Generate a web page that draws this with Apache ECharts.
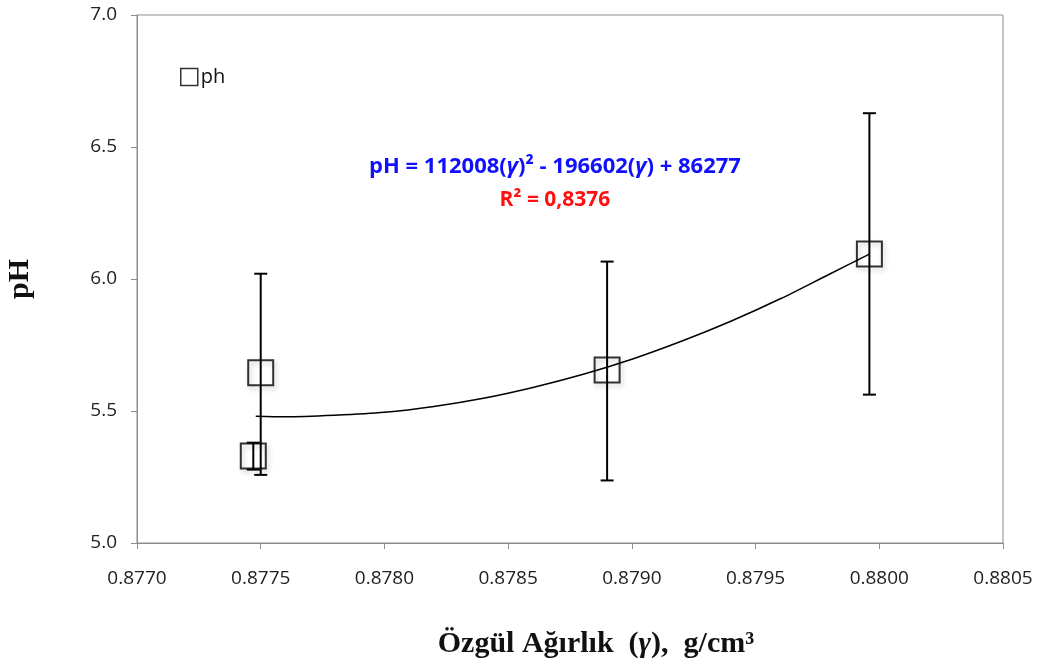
<!DOCTYPE html>
<html>
<head>
<meta charset="utf-8">
<script src="https://cdn.jsdelivr.net/npm/echarts@6/dist/echarts.min.js"></script>
<style>html,body{margin:0;padding:0;background:#fff}#c{width:1049px;height:670px}</style>
</head>
<body>
<div id="c"></div>
<script>
// Measured points (specific gravity, pH)
const gammaVals = [0.87747, 0.87750, 0.87890, 0.87996];
const phVals    = [5.330, 5.645, 5.655, 6.095];
const errLow    = [5.278, 5.258, 5.237, 5.562];
const errHigh   = [5.380, 6.020, 6.066, 6.628];
// Polynomial trendline
const trendX = [0.87748,0.87760,0.87780,0.87800,0.87820,0.87840,0.87860,0.87880,0.87900,0.87920,0.87940,0.87960,0.87980,0.87996];
const trendY = [5.480,5.478,5.484,5.495,5.517,5.548,5.589,5.638,5.696,5.764,5.840,5.925,6.019,6.094];
const xTicks = {min: 0.8770, max: 0.8805, interval: 0.0005};
const yTicks = {min: 5.0, max: 7.0, interval: 0.5};

const chart = echarts.init(document.getElementById('c'), null, {renderer: 'canvas'});
const pts = gammaVals.map((g, i) => [g, phVals[i]]);
const errs = gammaVals.map((g, i) => [g, errLow[i], errHigh[i]]);
const trend = trendX.map((g, i) => [g, trendY[i]]);
const sans = 'Open Sans, Liberation Sans, sans-serif';
const tickFont = {fontFamily: sans, fontSize: 19, color: '#222'};

chart.setOption({
  animation: false,
  grid: {left: 137, right: 46, top: 15, bottom: 127, containLabel: false, outerBoundsMode: 'none',
    show: true, borderColor: '#8c8c8c', borderWidth: 1},
  legend: {
    left: 175, top: 62, itemWidth: 17, itemHeight: 17, itemGap: 4,
    data: [{name: 'ph', icon: 'rect', itemStyle: {color: '#fff', borderColor: '#000', borderWidth: 1.5}}],
    textStyle: {fontFamily: sans, fontSize: 20, color: '#111', padding: [0,0,0,-2]}
  },
  xAxis: {
    type: 'value', min: xTicks.min, max: xTicks.max, interval: xTicks.interval,
    axisLine: {lineStyle: {color: '#8c8c8c'}},
    axisTick: {show: true, inside: false, length: 6, lineStyle: {color: '#8c8c8c'}},
    splitLine: {show: false},
    axisLabel: Object.assign({formatter: v => v.toFixed(4), margin: 26}, tickFont),
    name: '{b|Özgül Ağırlık  (}{i|γ}{b|),  g/cm³}', nameLocation: 'middle', nameGap: 86,
    nameTextStyle: {padding: [0, 0, 0, 52], rich: {
      b: {fontFamily: 'Liberation Serif, serif', fontWeight: 'bold', fontSize: 30, color: '#111'},
      i: {fontFamily: 'Liberation Serif, serif', fontWeight: 'bold', fontStyle: 'italic', fontSize: 30, color: '#111'}
    }}
  },
  yAxis: {
    type: 'value', min: yTicks.min, max: yTicks.max, interval: yTicks.interval,
    axisLine: {show: true, lineStyle: {color: '#8c8c8c'}},
    axisTick: {show: true, inside: false, length: 6, lineStyle: {color: '#8c8c8c'}},
    splitLine: {show: false},
    axisLabel: Object.assign({formatter: v => v.toFixed(1), margin: 20}, tickFont),
    name: 'pH', nameLocation: 'middle', nameGap: 102,
    nameTextStyle: {fontFamily: 'Liberation Serif, serif', fontWeight: 'bold', fontSize: 30, color: '#111'}
  },
  series: [
    {
      name: 'trend', type: 'line', data: trend, smooth: 0.3, symbol: 'none',
      lineStyle: {color: '#000', width: 1.5}, z: 2, silent: true
    },
    {
      name: 'err', type: 'custom', data: errs, z: 3, silent: true,
      renderItem: function (params, api) {
        const x = api.value(0);
        const lo = api.coord([x, api.value(1)]);
        const hi = api.coord([x, api.value(2)]);
        const w = 6.5;
        const st = {stroke: '#000', lineWidth: 2};
        return {type: 'group', children: [
          {type: 'line', shape: {x1: lo[0], y1: lo[1], x2: hi[0], y2: hi[1]}, style: st},
          {type: 'line', shape: {x1: lo[0]-w, y1: lo[1], x2: lo[0]+w, y2: lo[1]}, style: st},
          {type: 'line', shape: {x1: hi[0]-w, y1: hi[1], x2: hi[0]+w, y2: hi[1]}, style: st}
        ]};
      }
    },
    {
      name: 'ph', type: 'scatter', data: pts, symbol: 'rect', symbolSize: 25, z: 4,
      itemStyle: {color: 'rgba(255,255,255,0)', borderColor: '#000', borderWidth: 2,
        shadowColor: 'rgba(0,0,0,0.25)', shadowBlur: 5, shadowOffsetX: 2, shadowOffsetY: 3}
    }
  ],
  graphic: [
    {
      type: 'text', x: 555, y: 167, z: 10,
      style: {
        text: '{a|pH = 112008(}{g|γ}{a|)² - 196602(}{g|γ}{a|) + 86277}',
        align: 'center', verticalAlign: 'middle',
        rich: {
          a: {fontFamily: sans, fontWeight: 'bold', fontSize: 22, fill: '#1010ff'},
          g: {fontFamily: sans, fontWeight: 'bold', fontStyle: 'italic', fontSize: 22, fill: '#1010ff'}
        }
      }
    },
    {
      type: 'text', x: 555, y: 200, z: 10,
      style: {text: 'R² = 0,8376', align: 'center', verticalAlign: 'middle',
        fontFamily: sans, fontWeight: 'bold', fontSize: 21, fill: '#ff1010'}
    }
  ]
});
</script>
</body>
</html>
